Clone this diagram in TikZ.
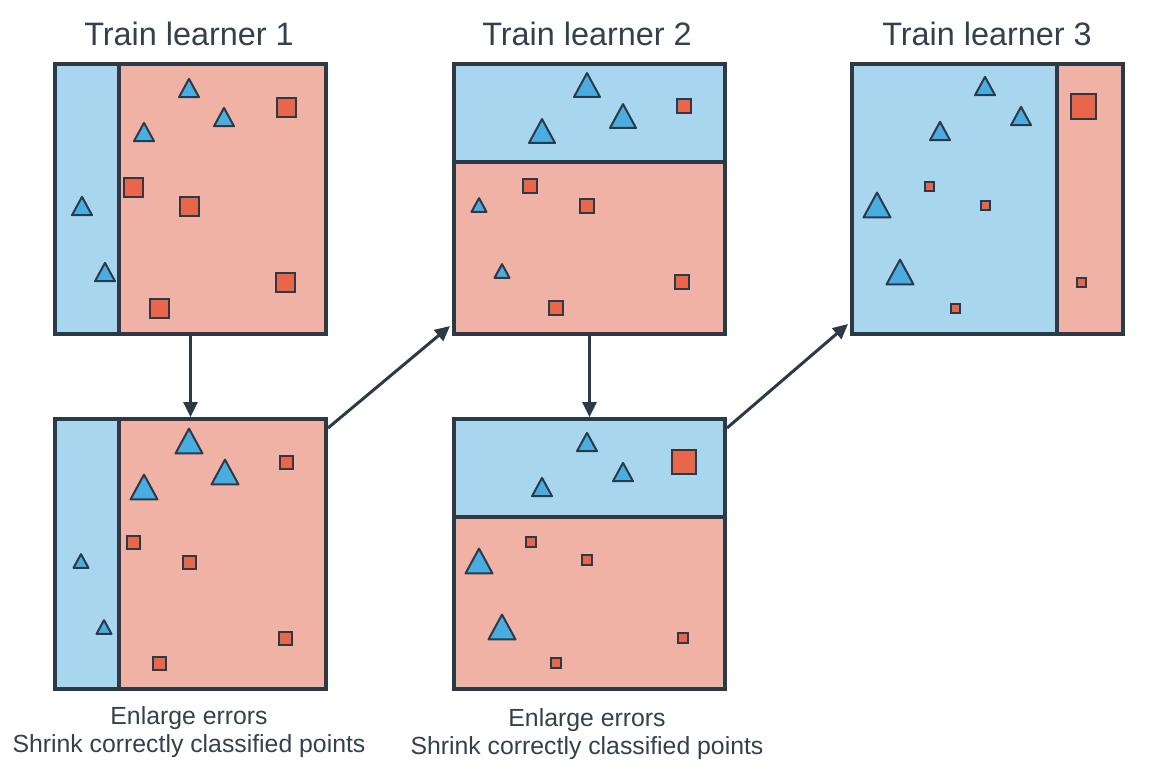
\documentclass[tikz,border=0pt]{standalone}
\usepackage{fontspec}
\setmainfont{Liberation Sans}
\usetikzlibrary{arrows.meta}
\definecolor{edge}{RGB}{44,58,71}
\definecolor{bluebg}{RGB}{167,214,238}
\definecolor{redbg}{RGB}{240,178,164}
\definecolor{trifill}{RGB}{74,173,226}
\definecolor{sqfill}{RGB}{232,103,74}
\definecolor{txt}{RGB}{52,64,76}
\newcommand\mytri[3]{\draw[tripoint] (#1-#3/2,#2+0.46*#3) -- (#1,#2-0.46*#3) -- (#1+#3/2,#2+0.46*#3) -- cycle;}
\newcommand\mysq[3]{\draw[sqpoint] (#1-#3/2,#2-#3/2) rectangle (#1+#3/2,#2+#3/2);}
\begin{document}
\begin{tikzpicture}[x=0.5pt,y=-0.5pt,
  panel/.style={draw=edge,line width=2pt,fill=none,inner sep=0pt,anchor=north west,minimum width=135.5pt,minimum height=135pt},
  divider/.style={draw=edge,line width=2pt},
  tripoint/.style={draw=edge,fill=trifill,line width=1pt,line join=round},
  sqpoint/.style={draw=edge,fill=sqfill,line width=1pt},
  arr/.style={draw=edge,line width=1.5pt,-{Triangle[length=7.5pt,width=7pt]}},
  title/.style={text=txt,font=\fontsize{16.2pt}{19pt}\selectfont,anchor=base,inner sep=0pt},
  caption/.style={text=txt,font=\fontsize{12.4pt}{15pt}\selectfont,anchor=base,inner sep=0pt}]
\useasboundingbox (0,0) rectangle (1154,778);

% ---------- titles
\node[title] (t1) at (189,45) {Train learner 1};
\node[title] (t2) at (587,45) {Train learner 2};
\node[title] (t3) at (987,45) {Train learner 3};

% ---------- panel 1 (top left)
\fill[redbg] (53,62) rectangle (325,332);
\fill[bluebg] (53,62) rectangle (119,332);
\draw[divider] (119,62) -- (119,332);
\mytri{189}{88}{20}
\mytri{224}{117}{20}
\mytri{144}{132}{20}
\mytri{82}{206}{20}
\mytri{105}{272}{20}
\mysq{286}{107}{19}
\mysq{133}{187}{19}
\mysq{189}{206}{19}
\mysq{285}{282}{19}
\mysq{159}{308}{19}
\node[panel] (p1) at (53,62) {};

% ---------- panel 4 (bottom left)
\fill[redbg] (53,417) rectangle (325,687);
\fill[bluebg] (53,417) rectangle (119,687);
\draw[divider] (119,417) -- (119,687);
\mytri{189}{441}{27}
\mytri{225}{472}{27}
\mytri{144}{487}{27}
\mytri{81}{561}{15}
\mytri{104}{627}{15}
\mysq{286}{462}{13}
\mysq{133}{542}{13}
\mysq{189}{562}{13}
\mysq{285}{638}{13}
\mysq{159}{663}{13}
\node[panel] (p4) at (53,417) {};

% ---------- panel 2 (top middle)
\fill[bluebg] (452,62) rectangle (723,162);
\fill[redbg] (452,162) rectangle (723,332);
\draw[divider] (452,162) -- (723,162);
\mytri{587}{85}{26}
\mytri{623}{116}{26}
\mytri{542}{131}{26}
\mytri{479}{205}{15}
\mytri{502}{271}{15}
\mysq{684}{106}{14}
\mysq{530}{186}{14}
\mysq{587}{206}{14}
\mysq{682}{282}{14}
\mysq{556}{308}{14}
\node[panel] (p2) at (452,62) {};

% ---------- panel 5 (bottom middle)
\fill[bluebg] (452,417) rectangle (723,517);
\fill[redbg] (452,517) rectangle (723,687);
\draw[divider] (452,517) -- (723,517);
\mytri{587}{442}{20}
\mytri{623}{472}{20}
\mytri{542}{487}{20}
\mytri{479}{561}{27}
\mytri{502}{627}{27}
\mysq{684}{462}{24}
\mysq{531}{542}{10}
\mysq{587}{560}{10}
\mysq{683}{638}{10}
\mysq{556}{663}{10}
\node[panel] (p5) at (452,417) {};

% ---------- panel 3 (top right)
\fill[bluebg] (850,62) rectangle (1057,332);
\fill[redbg] (1057,62) rectangle (1121,332);
\draw[divider] (1057,62) -- (1057,332);
\mytri{985}{86}{20}
\mytri{1021}{116}{20}
\mytri{940}{131}{20}
\mytri{877}{205}{27}
\mytri{900}{272}{27}
\mysq{1083}{106}{25}
\mysq{929}{186}{9}
\mysq{985}{205}{9}
\mysq{1081}{282}{9}
\mysq{955}{308}{9}
\node[panel] (p3) at (850,62) {};

% ---------- captions
\node[caption] (c1a) at (189,724) {Enlarge errors};
\node[caption] (c1b) at (189,752) {Shrink correctly classified points};
\node[caption] (c2a) at (587,726) {Enlarge errors};
\node[caption] (c2b) at (587,754) {Shrink correctly classified points};

% ---------- arrows
\draw[arr] (p1.south) -- (p4.north);
\draw[arr] (p2.south) -- (p5.north);
\draw[arr] ([yshift=-5.5pt]p4.north east) -- ([xshift=-1pt,yshift=5pt]p2.south west);
\draw[arr] ([yshift=-5.5pt]p5.north east) -- ([xshift=-1pt,yshift=6pt]p3.south west);
\end{tikzpicture}
\end{document}
